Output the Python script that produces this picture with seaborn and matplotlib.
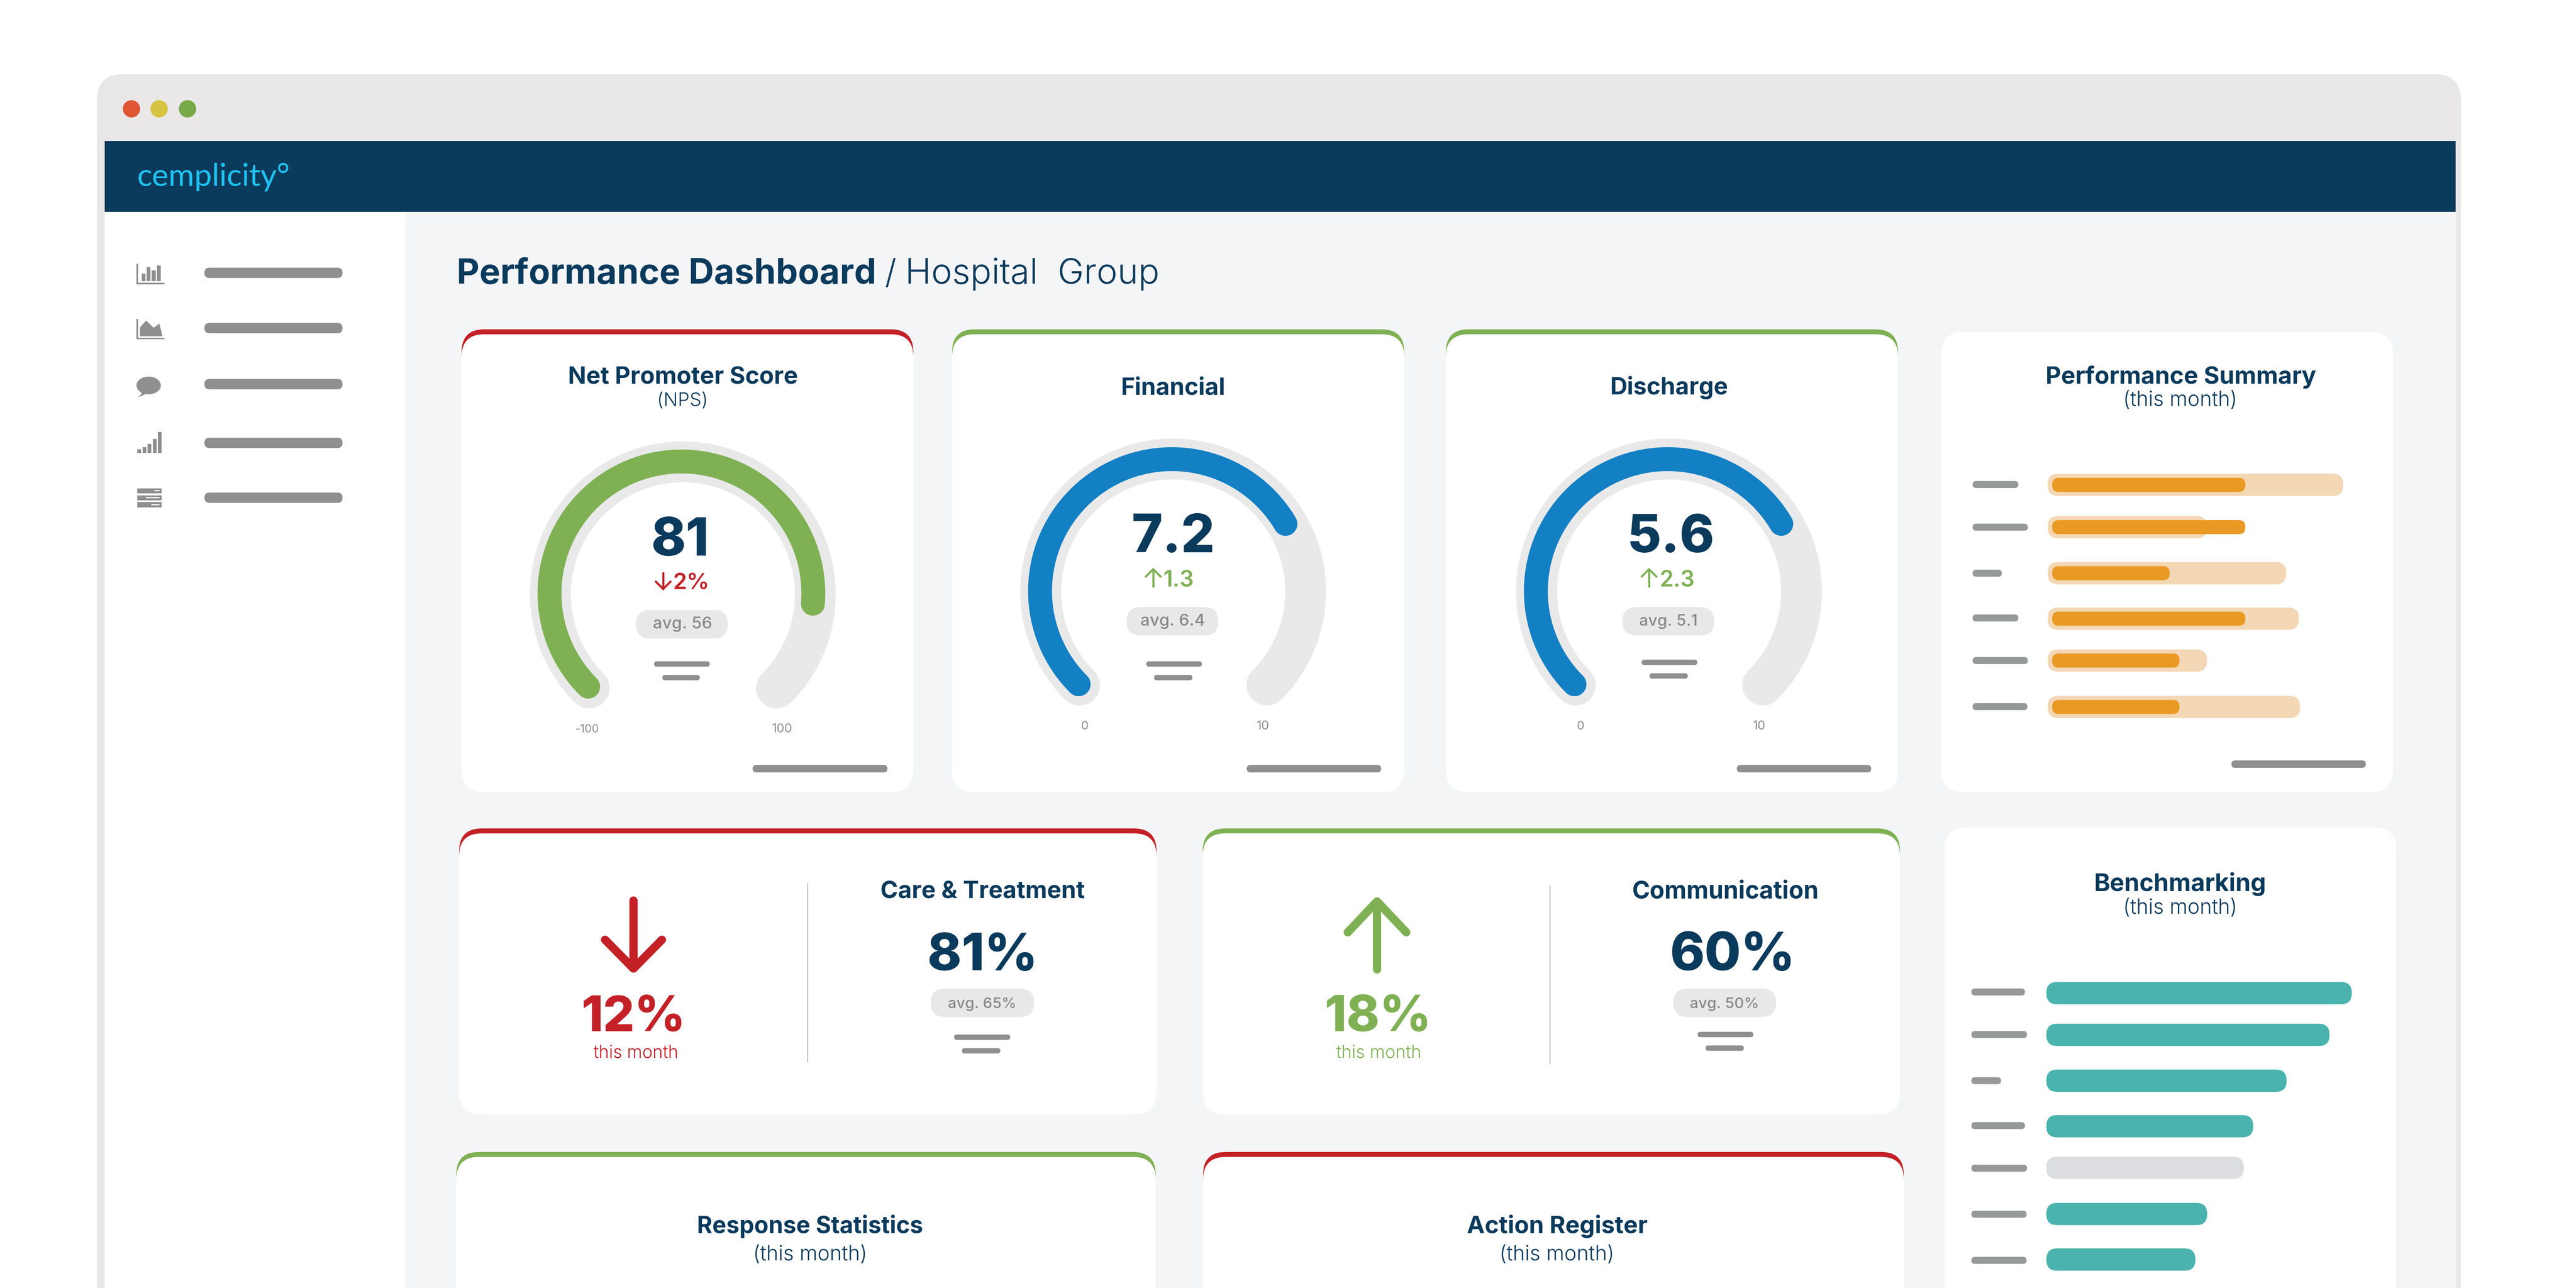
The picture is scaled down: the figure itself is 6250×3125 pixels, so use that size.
import numpy as np
import matplotlib
matplotlib.use("Agg")
import matplotlib.pyplot as plt
import seaborn as sns
from matplotlib.patches import FancyBboxPatch, Ellipse, Polygon, Rectangle

W, H = 6250, 3125

# chart values
GAUGE_NAMES = ["Net Promoter Score", "Financial", "Discharge"]
GAUGE_SCORES = ["81", "7.2", "5.6"]
GAUGE_DELTAS = ["2%", "1.3", "2.3"]
GAUGE_AVGS = ["avg. 56", "avg. 6.4", "avg. 5.1"]
GAUGE_MINS = ["-100", "0", "0"]
GAUGE_MAXS = ["100", "10", "10"]
GAUGE_FILL = [0.85, 0.72, 0.72]  # share of the dial as drawn
PERF_TARGET = [99.6, 53.7, 80.4, 84.7, 53.7, 85.1]
PERF_ACTUAL = [65.1, 65.1, 39.6, 65.1, 42.9, 42.9]
BENCH_VALUES = [98.8, 91.6, 77.7, 66.9, 63.9, 52.0, 48.2]
BENCH_HIGHLIGHT = [1, 1, 1, 1, 0, 1, 1]

# row centres in pixels
PERF_ROWS = [1176.4, 1279, 1390.7, 1501, 1602.7, 1715.2]
BENCH_ROWS = [2409.6, 2510.8, 2622, 2732.5, 2833.6, 2945.5, 3056]

NAVY = "#0a3a5c"
RED = "#c42127"
GREEN = "#7fb154"
BLUE = "#1380c4"
TRACK = "#e9e9e9"
GREY = "#8e8f8e"
STUB = "#969999"
ORANGE = "#e99a24"
PALE = "#f4d7b5"
TEAL = "#4ab3ae"
BENCH_OFF = "#dcdde0"
FONT = "Inter"
LIGHT = 300

sns.set_theme(style="white")

fig = plt.figure(figsize=(12.5, 6.25), dpi=500, facecolor="white")
ax = fig.add_axes([0, 0, 1, 1])
ax.set_xlim(0, W)
ax.set_ylim(H, 0)
ax.axis("off")
renderer = fig.canvas.get_renderer()


def px(v):
    return v * 72 / 500


def box(x0, x1, y0, y1, color, r=None, z=1):
    if r is None:
        r = (y1 - y0) / 2
    ax.add_patch(FancyBboxPatch((x0, y0), x1 - x0, y1 - y0,
                                boxstyle=f"round,pad=0,rounding_size={r}",
                                fc=color, ec="none", lw=0, zorder=z))


def pill(x0, x1, yc, h, color=GREY):
    box(x0, x1, yc - h / 2, yc + h / 2, color, z=3)


def label(x0, x1, base, s, color=NAVY, weight="bold", family=None, grow=1.0):
    # font size is fitted so the text fills the measured width
    t = ax.text((x0 + x1) / 2, base, s, ha="center", va="baseline", color=color,
                fontweight=weight, family=family or FONT, fontsize=10, zorder=5)
    w = t.get_window_extent(renderer).width
    t.set_fontsize(10 * grow * (x1 - x0) / w)
    return t


def card(x0, x1, top, bottom, band=None):
    if band:
        box(x0, x1, top, top + 200, band, r=55)
        top += 12
    box(x0, x1, top, bottom, "white", r=55)


def gauge(cx, cy, fx, fy, fill):
    # dial on a polar axes, theta runs clockwise from the lower left stop
    rmax = 420
    pax = fig.add_axes([(cx - rmax) / W, 1 - (cy + rmax) / H, 2 * rmax / W, 2 * rmax / H],
                       projection="polar")
    pax.patch.set_alpha(0)
    full = 1.5 * np.pi
    theta = np.linspace(0, full, 300)
    sns.lineplot(x=theta, y=np.full(300, 321.4), color=TRACK, linewidth=px(99),
                 solid_capstyle="round", errorbar=None, sort=False, ax=pax)
    pax.set_theta_offset(np.deg2rad(225))
    pax.set_theta_direction(-1)
    pax.set_rlim(0, rmax)
    pax.axis("off")

    fax = fig.add_axes([(fx - rmax) / W, 1 - (fy + rmax) / H, 2 * rmax / W, 2 * rmax / H],
                       projection="polar")
    fax.patch.set_alpha(0)
    theta = np.linspace(0, full * fill[0], 300)
    sns.lineplot(x=theta, y=np.full(300, 320.0), color=fill[1], linewidth=px(58),
                 solid_capstyle="round", errorbar=None, sort=False, ax=fax)
    fax.set_theta_offset(np.deg2rad(225))
    fax.set_theta_direction(-1)
    fax.set_rlim(0, rmax)
    fax.axis("off")


def rounded_bars(x0, scale, values, rows, thick, colors, radius):
    # bars come from seaborn, then each rectangle is swapped for a rounded one
    bax = fig.add_axes([x0 / W, 0, (W - x0) / W, 1])
    bax.patch.set_alpha(0)
    gap = np.diff(sorted(rows)).min()
    sns.barplot(x=values, y=rows, orient="h", native_scale=True, color="k", saturation=1,
                width=thick / gap, errorbar=None, ax=bax)
    bax.set_xlim(0, (W - x0) / scale)
    bax.set_ylim(H, 0)
    bax.axis("off")
    for rect, c in zip(list(bax.patches), colors):
        xb, yb, wb, hb = rect.get_x(), rect.get_y(), rect.get_width(), rect.get_height()
        rect.remove()
        bax.add_patch(FancyBboxPatch((xb, yb), wb, hb,
                                     boxstyle=f"round,pad=0,rounding_size={radius / scale}",
                                     mutation_aspect=scale, fc=c, ec="none", lw=0))


def small_arrow(x, y0, y1, color, up):
    wing = 18
    tip, tail = (y0, y1) if up else (y1, y0)
    d = wing if up else -wing
    ax.plot([x, x], [tail, tip], color=color, lw=px(5), solid_capstyle="round", zorder=5)
    ax.plot([x - wing, x, x + wing], [tip + d, tip, tip + d], color=color, lw=px(5),
            solid_capstyle="round", zorder=5)


def big_arrow(x, y0, y1, wing_y, wing_x, tip_y, color):
    ax.plot([x, x], [y0, y1], color=color, lw=px(20), solid_capstyle="round", zorder=5)
    ax.plot([x - wing_x, x, x + wing_x], [wing_y, tip_y, wing_y], color=color, lw=px(20),
            solid_capstyle="round", solid_joinstyle="round", zorder=5)


# browser window
box(235, 5971, 180, 3600, "#e9e7e8", r=64, z=0)
ax.add_patch(Rectangle((254, 342), 5704, 172, fc=NAVY, ec="none", zorder=1))
ax.add_patch(Rectangle((254, 514), 731, 2700, fc="white", ec="none", zorder=1))
ax.add_patch(Rectangle((985, 514), 4974, 2700, fc="#f4f5f7", ec="none", zorder=1))
for dx, c in zip([319, 386, 455], ["#e05634", "#d6c342", "#76a846"]):
    ax.add_patch(Ellipse((dx, 264), 42, 42, fc=c, ec="none", zorder=2))
label(333, 704, 450, "cemplicity°", color="#1fc2f0", weight="normal", family="Lato")

# sidebar
for yc in [662, 796, 932, 1074.5, 1207.6]:
    pill(496, 831, yc, 25)


def zx(x):
    return 200 + x / 1.425


def zy(y):
    return 150 + y / 1.3067


def irect(x0, y0, x1, y1, color=GREY):
    ax.add_patch(Rectangle((zx(x0), zy(y0)), (x1 - x0) / 1.425, (y1 - y0) / 1.3067,
                           fc=color, ec="none", zorder=3))


def ipoly(points):
    ax.add_patch(Polygon([(zx(a), zy(b)) for a, b in points], fc=GREY, ec="none", zorder=3))


irect(187, 640, 192, 705)
irect(187, 700, 283, 705)
for x0, top in zip([205, 222, 240, 258], [672, 651, 661, 645]):
    irect(x0, top, x0 + 13, 695)
irect(187, 815, 192, 880)
irect(187, 875, 283, 880)
ipoly([(199, 870), (199, 842), (220, 820), (246, 843), (266, 830), (277, 870)])
ax.add_patch(Ellipse((zx(229), zy(1026)), 59, 43, fc=GREY, ec="none", zorder=3))
ipoly([(200, 1045), (205, 1052), (192, 1064), (222, 1052)])
for x0, top in zip([190, 208, 225, 243, 261], [1228, 1222, 1211, 1196, 1173]):
    irect(x0, top, x0 + 13, 1240)
for y0, slit in zip([1352, 1374, 1396], [250, 220, 238]):
    irect(190, y0, 274, y0 + 16)
    irect(slit, y0 + 6, 267, y0 + 10, "white")

# page title
label(1108, 2126, 688, "Performance Dashboard")
label(2147, 2175, 688, "/", weight=LIGHT)
label(2196, 2813, 688, "Hospital  Group", weight=LIGHT)

# top row of cards
card(1120, 2216, 799, 1922, RED)
card(2310, 3407, 799, 1922, GREEN)
card(3508, 4605, 799, 1922, GREEN)
box(4710, 5806, 805, 1922, "white", r=55)

gauge(1656.8, 1442, 1653.3, 1439.7, (GAUGE_FILL[0], GREEN))
gauge(2846.4, 1435, 2843.4, 1434, (GAUGE_FILL[1], BLUE))
gauge(4049.5, 1435, 4046.4, 1434, (GAUGE_FILL[2], BLUE))

label(1377, 1936, 931, GAUGE_NAMES[0])
label(1594, 1718, 985, "(NPS)", weight=LIGHT)
label(2719, 2973, 957, GAUGE_NAMES[1])
label(3906, 4193, 957, GAUGE_NAMES[2])

label(1586, 1714, 1348, GAUGE_SCORES[0], weight="heavy", grow=1.1)
label(2755, 2939, 1340, GAUGE_SCORES[1], weight="heavy", grow=1.1)
label(3957, 4150, 1340, GAUGE_SCORES[2], weight="heavy", grow=1.1)

small_arrow(1609, 1390, 1429, RED, False)
label(1636, 1718, 1430, GAUGE_DELTAS[0], color=RED, weight="semibold", grow=1.08)
small_arrow(2798, 1381, 1423, GREEN, True)
label(2825, 2894, 1424, GAUGE_DELTAS[1], color=GREEN, weight="semibold", grow=1.08)
small_arrow(4001, 1381, 1423, GREEN, True)
label(4030, 4109, 1424, GAUGE_DELTAS[2], color=GREEN, weight="semibold", grow=1.08)

for x0, x1, yc in [(1543, 1766, 1514.5), (2733, 2956, 1507.5), (3936, 4159, 1507.5)]:
    pill(x0, x1, yc, 69, "#e8e8e8")
label(1584, 1728, 1524.6, GAUGE_AVGS[0], color="#8a8a8a", weight="medium")
label(2767, 2924, 1518.5, GAUGE_AVGS[1], color="#8a8a8a", weight="medium")
label(3977, 4119, 1518.5, GAUGE_AVGS[2], color="#8a8a8a", weight="medium")

for x0, x1, yc in [(1587, 1722, 1611), (1607, 1698, 1644), (2781, 2916, 1611), (2800, 2893, 1644),
                   (3983, 4118, 1607), (4002, 4095, 1640)]:
    pill(x0, x1, yc, 13)
for x0, x1 in [(1826, 2153), (3025, 3351), (4214, 4540)]:
    pill(x0, x1, 1865, 18)

label(1395, 1453, 1777, GAUGE_MINS[0], color=GREY, weight="normal")
label(1872, 1922, 1777, GAUGE_MAXS[0], color=GREY, weight="normal")
label(2622, 2640, 1770, GAUGE_MINS[1], color=GREY, weight="normal")
label(3049, 3080, 1770, GAUGE_MAXS[1], color=GREY, weight="normal")
label(3825, 3843, 1770, GAUGE_MINS[2], color=GREY, weight="normal")
label(4252, 4283, 1770, GAUGE_MAXS[2], color=GREY, weight="normal")

# performance summary
label(4962, 5620, 931, "Performance Summary")
label(5151, 5428, 985, "(this month)", weight=LIGHT)
for x1, yc in zip([4897, 4920, 4857, 4897, 4920, 4919], [1175.6, 1279, 1390.7, 1499.4, 1602.7, 1714.4]):
    pill(4786, x1, yc, 17, STUB)
pill(5414, 5740, 1854, 18)

# second row of cards
card(1114, 2806, 2010, 2704, RED)
card(2918, 4610, 2010, 2704, GREEN)
big_arrow(1537, 2185, 2345, 2280, 69, 2350, RED)
label(1418, 1657, 2502, "12%", color=RED, weight="heavy", grow=1.06)
label(1440, 1646, 2567, "this month", color=RED, weight=LIGHT)
ax.plot([1959.4, 1959.4], [2143, 2576], color="#c8c8c8", lw=px(3), zorder=3)
label(2136, 2633, 2179, "Care & Treatment")
label(2257, 2510, 2354, "81%", weight="heavy", grow=1.06)
pill(2258, 2509, 2433, 69, "#e8e8e8")
label(2300, 2466, 2446, "avg. 65%", color="#8a8a8a", weight="medium")
pill(2315, 2451, 2516.5, 13)
pill(2334, 2427, 2549.5, 13)

big_arrow(3341, 2190, 2352, 2262, 71, 2187, GREEN)
label(3221, 3466, 2502, "18%", color=GREEN, weight="heavy", grow=1.06)
label(3242, 3449, 2567, "this month", color=GREEN, weight=LIGHT)
ax.plot([3760, 3760], [2149, 2581], color="#c8c8c8", lw=px(3), zorder=3)
label(3959, 4413, 2179, "Communication")
label(4060, 4347, 2354, "60%", weight="heavy", grow=1.06)
pill(4060, 4309, 2433, 69, "#e8e8e8")
label(4100, 4268, 2446, "avg. 50%", color="#8a8a8a", weight="medium")
pill(4119, 4254, 2510, 13)
pill(4138, 4231, 2543, 13)

# third row, cut off by the image edge
card(1107, 2804, 2795, 3400, GREEN)
card(2919, 4619, 2795, 3400, RED)
label(1691, 2240, 2992, "Response Statistics")
label(1827, 2104, 3058, "(this month)", weight=LIGHT)
label(3559, 3998, 2992, "Action Register")
label(3638, 3917, 3058, "(this month)", weight=LIGHT)

# benchmarking
box(4718, 5814, 2007, 3400, "white", r=55)
label(5080, 5499, 2162, "Benchmarking")
label(5151, 5428, 2217, "(this month)", weight=LIGHT)
for x1, yc in zip([4913, 4918, 4855, 4913, 4918, 4917, 4917],
                  [2406.8, 2510, 2622, 2731, 2834.3, 2946, 3058]):
    pill(4783, x1, yc, 17, STUB)

rounded_bars(4968, 7.2, PERF_TARGET, PERF_ROWS, 54, [PALE] * 6, 26)
rounded_bars(4979, 7.2, PERF_ACTUAL, PERF_ROWS, 34, [ORANGE] * 6, 16)
rounded_bars(4965, 7.5, BENCH_VALUES, BENCH_ROWS, 54,
             [TEAL if on else BENCH_OFF for on in BENCH_HIGHLIGHT], 26)

fig.savefig("out.png", dpi=500)
